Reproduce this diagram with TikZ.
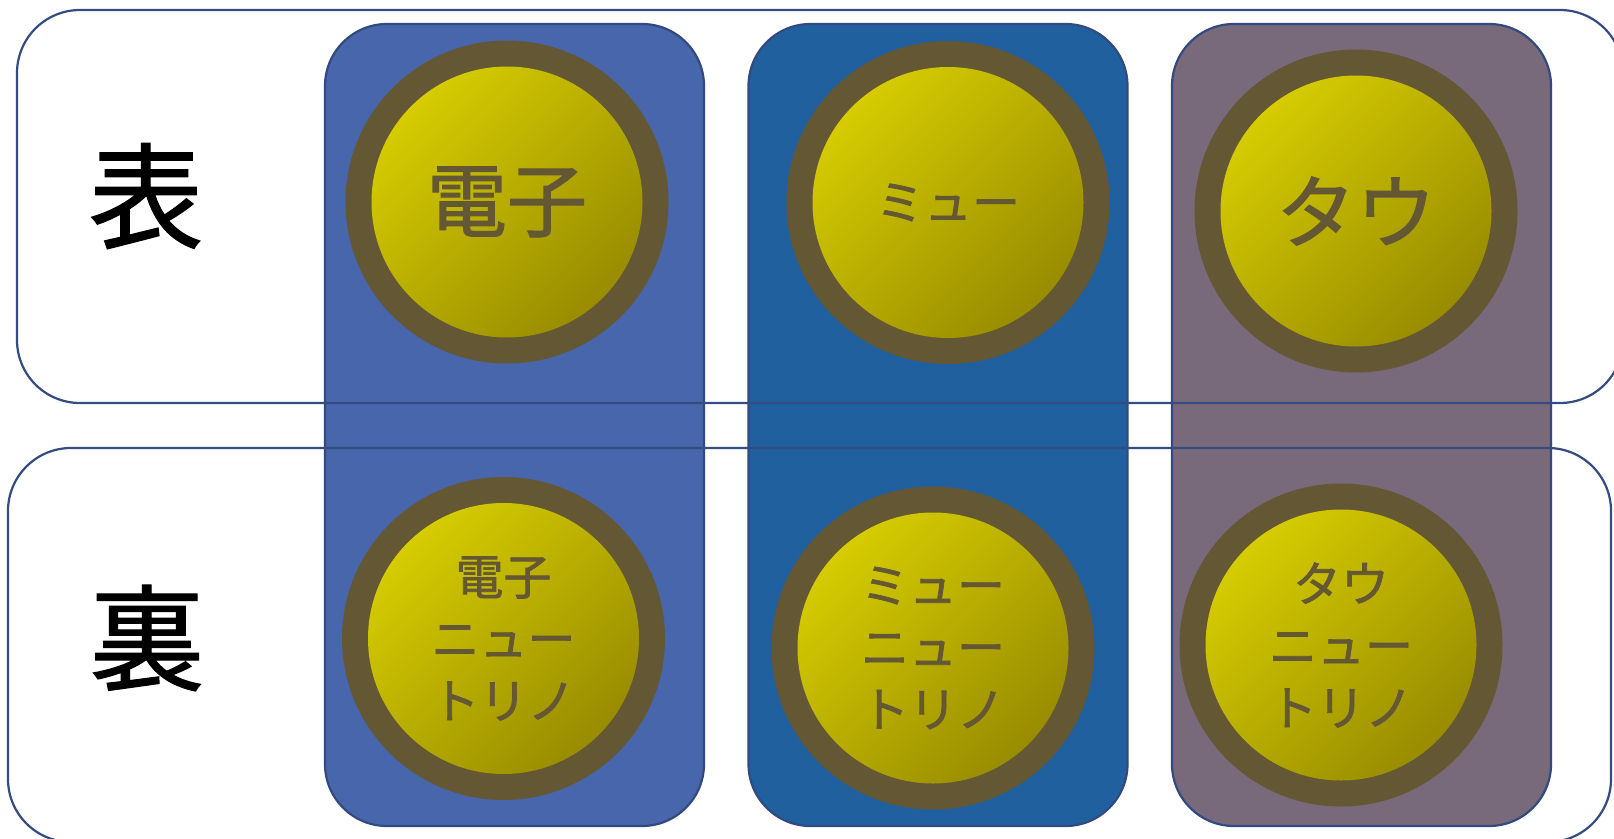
\documentclass[tikz,border=0pt]{standalone}
\usepackage{fontspec}
\newfontfamily\jp[FakeBold=1.5]{Noto Sans CJK JP}
\newfontfamily\jpside[FakeBold=1]{Noto Sans CJK JP}
\definecolor{bordc}{RGB}{50,74,128}
\definecolor{rowc}{RGB}{52,76,130}
\definecolor{c1}{RGB}{72,102,172}
\definecolor{c2}{RGB}{32,96,159}
\definecolor{c3}{RGB}{120,106,123}
\definecolor{ringc}{RGB}{100,87,51}
\definecolor{yl}{RGB}{214,204,0}
\definecolor{yd}{RGB}{152,140,0}
\definecolor{txtc}{RGB}{100,87,51}
\begin{document}
\begin{tikzpicture}[x=1pt,y=-1pt,
  col/.style={draw=bordc, line width=2.2pt, rounded corners=62pt, minimum width=379pt, minimum height=802pt, inner sep=0pt},
  rowbox/.style={draw=rowc, line width=2.2pt, rounded corners=63pt, inner sep=0pt},
  ring/.style={circle, fill=ringc, minimum size=323pt, inner sep=0pt},
  core/.style={circle, minimum size=271pt, inner sep=0pt, top color=yl, bottom color=yd, shading angle=45, text=txtc, font=\jp\fontsize{80}{96}\selectfont, align=center},
  small/.style={font=\jp\fontsize{48}{62}\selectfont},
  side/.style={font=\jpside\fontsize{115}{130}\selectfont, text=black, inner sep=0pt}
]
\useasboundingbox (0,0) rectangle (1614,838);
\fill[white] (0,0) rectangle (1614,838);
\clip (0,0) rectangle (1614,838);
% columns
\node[col, fill=c1] (col1) at (514.5,425) {};
\node[col, fill=c2] (col2) at (938,425) {};
\node[col, fill=c3] (col3) at (1361.5,425) {};
% row boxes
\node[rowbox, minimum width=1606pt, minimum height=393pt] (rowtop) at (820,206.5) {};
\node[rowbox, minimum width=1603pt, minimum height=394pt] (rowbot) at (809.5,645) {};
% side labels
\node[side] (omote) at (146,196) {表};
\node[side] (ura) at (147,638) {裏};
% top row particles
\node[ring] (r11) at (507,202) {};
\node[core] (p11) at (r11) {電子};
\node[ring] (r12) at (948,202.5) {};
\node[core, small] (p12) at (r12) {ミュー};
\node[ring] (r13) at (1356,211) {};
\node[core] (p13) at (r13) {タウ};
% bottom row particles
\node[ring] (r21) at (503.5,638.5) {};
\node[core, small] (p21) at (r21) {電子\\ニュー\\トリノ};
\node[ring] (r22) at (933,648) {};
\node[core, small] (p22) at (r22) {ミュー\\ニュー\\トリノ};
\node[ring] (r23) at (1341,645) {};
\node[core, small] (p23) at (r23) {タウ\\ニュー\\トリノ};
\end{tikzpicture}
\end{document}
